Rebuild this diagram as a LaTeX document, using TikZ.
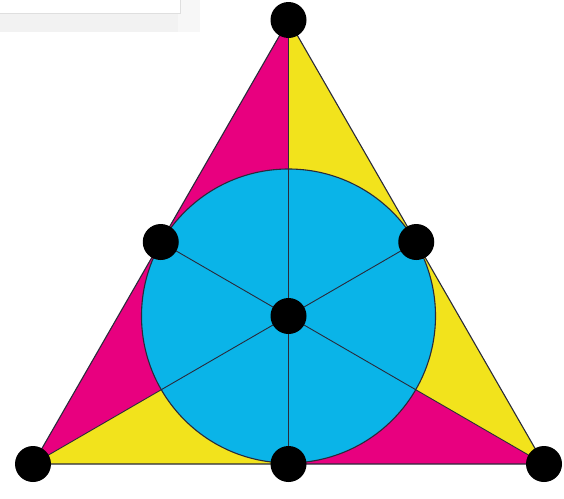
\documentclass[tikz,border=0pt]{standalone}
\usepackage{tikz}
\usetikzlibrary{calc}
\definecolor{fanoMagenta}{HTML}{E8007F}
\definecolor{fanoYellow}{HTML}{F2E31C}
\definecolor{fanoCyan}{HTML}{0AB4E8}
\definecolor{fanoLine}{HTML}{2A2A3A}
\begin{document}
\begin{tikzpicture}[
  x=1pt,y=-1pt,
  dot/.style={circle,fill=black,inner sep=0pt,minimum size=36pt},
  edge/.style={draw=fanoLine,line width=1.1pt},
  median/.style={draw=fanoLine,line width=0.9pt}
]
\useasboundingbox (0,0) rectangle (564,498);

% faint box in the corner
\fill[gray!10] (0,10) rectangle (192,32);
\fill[gray!6] (178,0) rectangle (200,32);
\draw[gray!25,fill=white] (-2,-2) rectangle (180,13);

% corners, midpoints and centre
\coordinate (T)  at (288.5,20);
\coordinate (L)  at (33,464);
\coordinate (R)  at (544,464);
\coordinate (ML) at ($(T)!0.5!(L)$);
\coordinate (MR) at ($(T)!0.5!(R)$);
\coordinate (MB) at ($(L)!0.5!(R)$);
\coordinate (C)  at (288.5,316);

% six coloured pieces
\fill[fanoMagenta] (T) -- (ML) -- (C) -- cycle;
\fill[fanoYellow]  (T) -- (MR) -- (C) -- cycle;
\fill[fanoMagenta] (L) -- (ML) -- (C) -- cycle;
\fill[fanoYellow]  (L) -- (MB) -- (C) -- cycle;
\fill[fanoMagenta] (R) -- (MB) -- (C) -- cycle;
\fill[fanoYellow]  (R) -- (MR) -- (C) -- cycle;

% inscribed circle
\draw[edge,fill=fanoCyan] (C) circle[radius=147];

\draw[median] (T) -- (MB);
\draw[median] (L) -- (MR);
\draw[median] (R) -- (ML);
\draw[edge] (T) -- (L) -- (R) -- cycle;

\node[dot] (t)  at (T)  {};
\node[dot] (l)  at (L)  {};
\node[dot] (r)  at (R)  {};
\node[dot] (ml) at (ML) {};
\node[dot] (mr) at (MR) {};
\node[dot] (mb) at (MB) {};
\node[dot] (c)  at (C)  {};
\end{tikzpicture}
\end{document}
